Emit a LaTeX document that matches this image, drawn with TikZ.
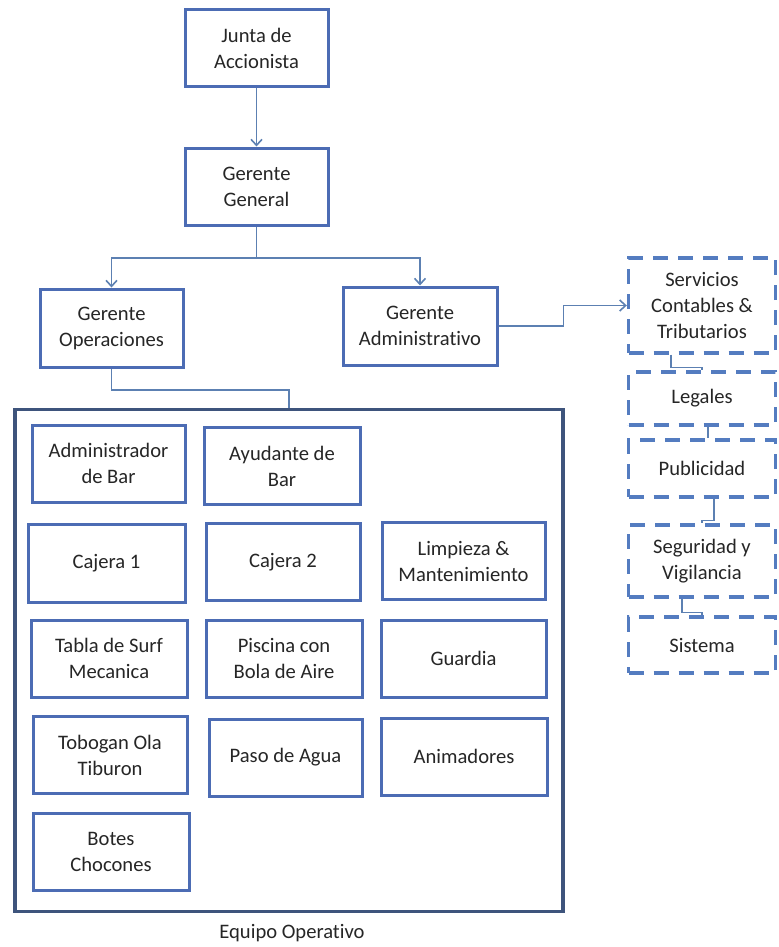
\documentclass[tikz,border=0pt]{standalone}
\usepackage{fontspec}
\setmainfont{Carlito}[Ligatures=CommonOff]
\usepackage{tikz}
\usetikzlibrary{arrows.meta}

\definecolor{cajaazul}{RGB}{76,108,180}
\definecolor{marcoazul}{RGB}{62,84,124}
\definecolor{lineaazul}{RGB}{92,128,178}
\definecolor{guionazul}{RGB}{84,124,192}

\begin{document}
\begin{tikzpicture}[x=0.5pt, y=-0.5pt,
		every node/.style={font=\fontsize{10.3}{13}\selectfont, align=center, text=black!85},
		caja/.style={draw=cajaazul, line width=1.5pt, fill=white, inner sep=0pt, minimum height=38.5pt},
		externo/.style={draw=guionazul, line width=1.7pt, dash pattern=on 7.5pt off 5pt, inner sep=0pt, minimum width=73.5pt},
		linea/.style={draw=lineaazul, line width=0.8pt},
		>={Straight Barb[length=3pt,width=5.5pt]}]
	\useasboundingbox (0,0) rectangle (778,947);

	% direccion
	\node[caja, minimum width=71.5pt] (junta) at (256.5,48.5) {Junta de\\Accionista};
	\node[caja, minimum width=71.5pt] (gral) at (256.5,186.5) {Gerente\\General};
	\node[caja, minimum width=71.5pt, minimum height=39pt] (gop) at (111.5,328) {Gerente\\Operaciones};
	\node[caja, minimum width=77pt, minimum height=39pt] (gad) at (420,326) {Gerente\\Administrativo};

	% equipo operativo
	\node[draw=marcoazul, line width=1.6pt, inner sep=0pt, minimum width=274pt, minimum height=251pt] (equipo) at (289,660.5) {};
	\node (eqlabel) at (292,933) {Equipo Operativo};

	\node[caja, minimum width=76.5pt] (admbar) at (108.5,463.5) {Administrador\\de Bar};
	\node[caja, minimum width=78pt] (ayubar) at (282,466) {Ayudante de\\Bar};
	\node[caja, minimum width=78.5pt, minimum height=39pt] (caj1) at (106.5,563) {Cajera 1};
	\node[caja, minimum width=77pt] (caj2) at (283,562) {Cajera 2};
	\node[caja, minimum width=81.5pt] (limp) at (463.5,561) {Limpieza \&\\Mantenimiento};
	\node[caja, minimum width=78pt] (tabla) at (109,658.5) {Tabla de Surf\\Mecanica};
	\node[caja, minimum width=78pt] (pisc) at (284,658.5) {Piscina con\\Bola de Aire};
	\node[caja, minimum width=82.5pt] (guard) at (463.5,658.5) {Guardia};
	\node[caja, minimum width=77pt] (tobo) at (110,755) {Tobogan Ola\\Tiburon};
	\node[caja, minimum width=76.5pt] (paso) at (285.5,757.5) {Paso de Agua};
	\node[caja, minimum width=83pt] (anim) at (464,756.5) {Animadores};
	\node[caja, minimum width=78pt] (botes) at (111,852) {Botes\\Chocones};

	% servicios externos
	\node[externo, minimum height=47.5pt] (serv) at (702,305.5) {Servicios\\Contables \&\\Tributarios};
	\node[externo, minimum height=26.5pt] (leg) at (702,398.5) {Legales};
	\node[externo, minimum height=28.5pt] (pub) at (702,468.5) {Publicidad};
	\node[externo, minimum height=36pt] (seg) at (702,561) {Seguridad y\\Vigilancia};
	\node[externo, minimum height=28pt] (sis) at (702,645) {Sistema};

	% conectores
	\coordinate (rama) at (256.5,258);
	\coordinate (codo) at (289,390);
	\draw[linea, ->] (junta) -- (gral);
	\draw[linea, ->] (gral.south) -- (rama) -| (gop.north);
	\draw[linea, ->] (rama) -| (gad.north);
	\draw[linea] (gop.south) |- (codo) -- (equipo.north);
	\draw[linea, ->] (gad.east) -- ++(65,0) |- (serv.west);

	\draw[linea] ([xshift=-15.5pt]serv.south) |- ([yshift=1.5pt]leg.north) -- (leg.north);
	\draw[linea] ([xshift=3pt]leg.south) -- ([xshift=3pt]pub.north);
	\draw[linea] ([xshift=6pt]pub.south) |- ([yshift=1.5pt]seg.north) -- (seg.north);
	\draw[linea] ([xshift=-10pt]seg.south) |- ([yshift=1.5pt]sis.north) -- (sis.north);
\end{tikzpicture}
\end{document}
